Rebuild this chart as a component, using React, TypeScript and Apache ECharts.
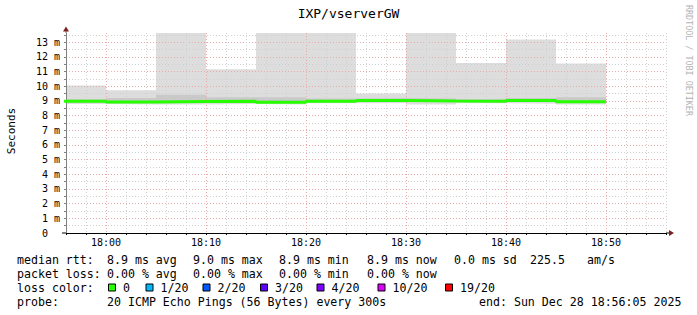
import React, { useEffect, useRef } from 'react';
import * as echarts from 'echarts';

const MONO = '"DejaVu Sans Mono", "Liberation Mono", monospace';

const chartTitle = 'IXP/vserverGW';
const yAxisTitle = 'Seconds';
const watermark = 'RRDTOOL / TOBI OETIKER';

// rrd step end times (minutes after 18:00); each value covers the 5 minutes before it
const stepEndMinutes = [0, 5, 10, 15, 20, 25, 30, 35, 40, 45, 50];
// values in ms
const medianMs = [8.98, 8.93, 8.96, 8.98, 8.91, 8.98, 9.03, 9.0, 8.98, 9.03, 8.94];
const smokeMinMs = [8.79, 8.75, 8.75, 8.79, 8.75, 8.84, 8.84, 8.75, 8.84, 8.8, 8.75];
const smokeInnerLowMs = [8.9, 8.85, 8.88, 8.9, 8.83, 8.9, 8.95, 8.92, 8.9, 8.95, 8.86];
const smokeInnerHighMs = [9.11, 9.2, 9.43, 9.25, 9.25, 9.16, 9.2, 9.16, 9.11, 9.2, 9.25];
const smokeMaxMs = [10.05, 9.73, 15.2, 11.16, 14.8, 16.0, 9.5, 14.2, 11.59, 13.18, 11.55];

const xTickLabels = ['18:00', '18:10', '18:20', '18:30', '18:40', '18:50'];
const yUnit = 'm';

const rttLabel = 'median rtt:';
const rttStats = ['8.9 ms avg', '9.0 ms max', '8.9 ms min', '8.9 ms now', '0.0 ms sd', '225.5', 'am/s'];
const lossLabel = 'packet loss:';
const lossStats = ['0.00 % avg', '0.00 % max', '0.00 % min', '0.00 % now'];
const lossColorLabel = 'loss color:';
const lossLabels = ['0', '1/20', '2/20', '3/20', '4/20', '10/20', '19/20'];
const lossColors = ['#26ff00', '#00b8ff', '#0059ff', '#5e00ff', '#7e00ff', '#dd00ff', '#ff0000'];
const probeLabel = 'probe:';
const probeText = '20 ICMP Echo Pings (56 Bytes) every 300s';
const endText = 'end: Sun Dec 28 18:56:05 2025';

// layout
const W = 697;
const H = 315;
const GRID_L = 66;
const GRID_T = 33;
const GRID_W = 600;
const GRID_H = 200;
const X_MIN_S = -240;
const X_MAX_S = 3360;
const Y_MAX = 13.63;
const statX = [107, 193, 279, 367, 454, 530, 587];
const boxX = [108, 145.5, 202.5, 260, 316.5, 377.5, 445];
const lineY = [259.5, 273.5, 287.5, 301.5];
const MAJOR = '#e8abab';
const MINOR = '#d0d0d0';

const stepPoints = (vals: number[]) =>
  stepEndMinutes.flatMap((m, i) => [
    [(m - 5) * 60, vals[i]],
    [m * 60, vals[i]],
  ]);

const txt = (text: string, x: number, y: number, extra: any = {}) => ({
  type: 'text',
  x,
  y,
  silent: true,
  ...extra,
  style: {
    text,
    fill: '#000',
    fontFamily: MONO,
    fontSize: 11.6,
    verticalAlign: 'middle',
    align: 'left',
    ...(extra.style || {}),
  },
});

export default function App() {
  const ref = useRef<HTMLDivElement>(null);

  useEffect(() => {
    if (!ref.current) return;
    const chart = echarts.init(ref.current, undefined, { renderer: 'svg' });

    // opaque areas from the axis, drawn largest first; grid lines sit on top of them
    const smokeSeries = (name: string, vals: number[], color: string) => ({
      name,
      type: 'line',
      data: stepPoints(vals),
      symbol: 'none',
      z: 1,
      silent: true,
      lineStyle: { width: 0, opacity: 0 },
      areaStyle: { color, opacity: 1 },
      clip: true,
    });

    const graphics: any[] = [];
    // axis arrows
    graphics.push({
      type: 'line',
      shape: { x1: GRID_L, y1: GRID_T, x2: GRID_L, y2: GRID_T - 2 },
      style: { stroke: '#808080', lineWidth: 1 },
    });
    graphics.push({
      type: 'polygon',
      shape: { points: [[GRID_L - 3, GRID_T - 1.5], [GRID_L + 3, GRID_T - 1.5], [GRID_L, GRID_T - 6.5]] },
      style: { fill: '#7f2020' },
    });
    graphics.push({
      type: 'line',
      shape: { x1: GRID_L + GRID_W, y1: GRID_T + GRID_H, x2: GRID_L + GRID_W + 3, y2: GRID_T + GRID_H },
      style: { stroke: '#000', lineWidth: 1 },
    });
    graphics.push({
      type: 'polygon',
      shape: {
        points: [
          [GRID_L + GRID_W + 3, GRID_T + GRID_H - 3],
          [GRID_L + GRID_W + 3, GRID_T + GRID_H + 3],
          [GRID_L + GRID_W + 8, GRID_T + GRID_H],
        ],
      },
      style: { fill: '#7f2020' },
    });
    graphics.push({
      type: 'line',
      shape: { x1: GRID_L - 4, y1: GRID_T + GRID_H, x2: GRID_L, y2: GRID_T + GRID_H },
      style: { stroke: '#000', lineWidth: 1 },
    });
    // vertical texts
    graphics.push(
      txt(yAxisTitle, 11, 131, { rotation: Math.PI / 2, style: { align: 'center', fontSize: 11 } })
    );
    graphics.push(
      txt(watermark, 689, 60.5, {
        rotation: -Math.PI / 2,
        style: { align: 'center', fontSize: 8.4, fill: '#b4b4b4' },
      })
    );
    // legend
    graphics.push(txt(rttLabel, 17, lineY[0]));
    rttStats.forEach((s, i) => graphics.push(txt(s, statX[i], lineY[0])));
    graphics.push(txt(lossLabel, 17, lineY[1]));
    lossStats.forEach((s, i) => graphics.push(txt(s, statX[i], lineY[1])));
    graphics.push(txt(lossColorLabel, 17, lineY[2]));
    lossLabels.forEach((s, i) => {
      graphics.push({
        type: 'rect',
        shape: { x: boxX[i] + 0.5, y: lineY[2] - 3.5, width: 7, height: 7 },
        style: { fill: lossColors[i], stroke: '#000', lineWidth: 1 },
      });
      graphics.push(txt(s, boxX[i] + 15, lineY[2]));
    });
    graphics.push(txt(probeLabel, 17, lineY[3]));
    graphics.push(txt(probeText, 107, lineY[3]));
    graphics.push(txt(endText, 479, lineY[3]));

    chart.setOption({
      animation: false,
      backgroundColor: '#ffffff',
      title: {
        text: chartTitle,
        left: 'center',
        top: 2,
        textStyle: { fontFamily: MONO, fontSize: 13, fontWeight: 'normal', color: '#000' },
      },
      grid: { left: GRID_L, top: GRID_T, width: GRID_W, height: GRID_H },
      xAxis: {
        type: 'value',
        min: X_MIN_S,
        max: X_MAX_S,
        interval: 120,
        z: 3,
        axisLine: { show: true, onZero: false, lineStyle: { color: '#000', width: 1 } },
        axisTick: { show: true, length: 2, lineStyle: { color: '#000' } },
        axisLabel: {
          margin: 4,
          fontFamily: MONO,
          fontSize: 10,
          color: '#000',
          formatter: (v: number) => (v % 600 === 0 ? xTickLabels[v / 600] ?? '' : ''),
        },
        splitLine: {
          show: true,
          lineStyle: { color: [MINOR, MINOR, MAJOR, MINOR, MINOR], type: [1, 2], width: 1 },
        },
      },
      yAxis: {
        type: 'value',
        min: 0,
        max: Y_MAX,
        interval: 0.5,
        z: 3,
        axisLine: { show: true, onZero: false, lineStyle: { color: '#808080', width: 1 } },
        axisTick: { show: true, length: 2, lineStyle: { color: '#808080' } },
        axisLabel: {
          margin: 6,
          fontFamily: MONO,
          fontSize: 10,
          color: '#000',
          showMaxLabel: false,
          formatter: (v: number) =>
            Number.isInteger(v) ? (v === 0 ? '0\u00a0\u00a0' : `${v} ${yUnit}`) : '',
        },
        splitLine: {
          show: true,
          showMaxLine: false,
          lineStyle: { color: [MAJOR, MINOR], type: [1, 2], width: 1 },
        },
      },
      series: [
        smokeSeries('smoke-max', smokeMaxMs, '#dddddd'),
        smokeSeries('smoke-inner-high', smokeInnerHighMs, '#c9c9c9'),
        smokeSeries('smoke-inner-low', smokeInnerLowMs, '#dddddd'),
        smokeSeries('smoke-min', smokeMinMs, '#ffffff'),
        {
          name: 'median rtt',
          type: 'line',
          data: stepPoints(medianMs),
          symbol: 'none',
          z: 5,
          silent: true,
          clip: true,
          lineStyle: { color: lossColors[0], width: 3 },
        },
      ],
      graphic: graphics,
    });

    return () => chart.dispose();
  }, []);

  return (
    <div
      ref={ref}
      style={{ position: 'fixed', left: 0, top: 0, width: W, height: H, background: '#fff' }}
    />
  );
}
